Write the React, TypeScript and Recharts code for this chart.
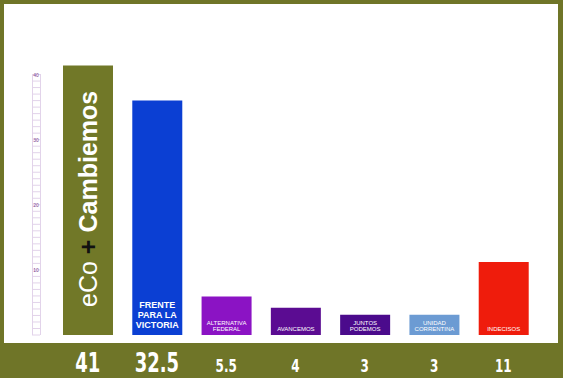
import { Bar, BarChart, Cell, LabelList, XAxis, YAxis } from "recharts";

const parties = [
  "eCo + Cambiemos",
  "FRENTE PARA LA VICTORIA",
  "ALTERNATIVA FEDERAL",
  "AVANCEMOS",
  "JUNTOS PODEMOS",
  "UNIDAD CORRENTINA",
  "INDECISOS",
];
// bar heights as read against the ruler on the left
const barValues = [41.4, 36, 5.9, 4.2, 3.1, 3.1, 11.2];
// numbers printed in the bottom band
const shares = ["41", "32.5", "5.5", "4", "3", "3", "11"];
const barLines = [
  [],
  ["FRENTE", "PARA LA", "VICTORIA"],
  ["ALTERNATIVA", "FEDERAL"],
  ["AVANCEMOS"],
  ["JUNTOS", "PODEMOS"],
  ["UNIDAD", "CORRENTINA"],
  ["INDECISOS"],
];
const barColors = ["#717828", "#0b3fd3", "#8b13c4", "#5b0c92", "#4b0b8c", "#6c9bd3", "#ef1c0c"];
const rulerTicks = Array.from({ length: 41 }, (_, i) => i);

const OLIVE = "#6f7528";

const data = parties.map((name, i) => ({ name, value: barValues[i], share: shares[i] }));

function RulerTick(props: any) {
  const { x, y, payload } = props;
  const v = payload.value as number;
  return (
    <g>
      <line x1={x - 8} x2={x} y1={y} y2={y} stroke="#e2d3ea" strokeWidth={1} />
      {v % 10 === 0 && v > 0 ? (
        <text x={x - 4} y={y} dy={2} textAnchor="middle" fontSize={5} fill="#7b3b8e" fontFamily="Liberation Sans">
          {v}
        </text>
      ) : null}
    </g>
  );
}

// condensed look: squeeze the bold digits horizontally
function ShareTick(props: any) {
  const { x, y, payload, index } = props;
  const big = index < 2;
  return (
    <g transform={`translate(${x} ${y + 37}) scale(0.74 1)`}>
      <text
        x={0}
        y={0}
        textAnchor="middle"
        fill="#ffffff"
        fontFamily="'DejaVu Sans Condensed', 'DejaVu Sans', sans-serif"
        fontWeight="bold"
        fontSize={big ? 27 : 18}
      >
        {shares[index] ?? payload.value}
      </text>
    </g>
  );
}

function BarText(props: any) {
  const { x, y, width, height, index } = props;
  const cx = x + width / 2;
  const bottom = y + height;
  if (index === 0) {
    return (
      <text
        x={cx}
        y={bottom - 28}
        transform={`rotate(-90 ${cx} ${bottom - 28})`}
        dominantBaseline="central"
        fontFamily="'Liberation Sans', Arial, sans-serif"
        fontSize={25}
        fill="#ffffff"
      >
        <tspan fontWeight={300}>eCo</tspan>
        <tspan fontWeight="bold" fill="#111111" dx={7}>+</tspan>
        <tspan fontWeight="bold" dx={7}>Cambiemos</tspan>
      </text>
    );
  }
  const lines = barLines[index];
  const big = index === 1;
  const lh = big ? 10 : 6;
  const fs = big ? 9 : 6;
  const last = bottom - (big ? 7 : 4);
  return (
    <text
      textAnchor="middle"
      fontFamily="'Liberation Sans', Arial, sans-serif"
      fontWeight={big ? "bold" : "normal"}
      fontSize={fs}
      fill="#ffffff"
    >
      {lines.map((line: string, k: number) => (
        <tspan key={k} x={cx} y={last - (lines.length - 1 - k) * lh}>
          {line}
        </tspan>
      ))}
    </text>
  );
}

export default function App() {
  return (
    <div style={{ position: "absolute", left: 0, top: 0, width: 563, height: 378, background: OLIVE }}>
      <div style={{ position: "absolute", left: 4, top: 4, width: 554, height: 339, background: "#ffffff" }} />
      <div
        style={{
          position: "absolute",
          left: 32,
          top: 74,
          width: 7,
          height: 261,
          borderLeft: "1px solid #e2d3ea",
          borderRight: "1px solid #e2d3ea",
        }}
      />
      <div style={{ position: "absolute", left: 0, top: 0 }}>
        <BarChart width={563} height={378} data={data} margin={{ top: 42, right: 25, bottom: 0, left: 19 }}>
          <XAxis
            dataKey="name"
            height={43}
            axisLine={false}
            tickLine={false}
            tickSize={0}
            tickMargin={0}
            interval={0}
            padding={{ left: 13, right: 0 }}
            tick={<ShareTick />}
          />
          <YAxis
            width={21}
            domain={[0, 45]}
            ticks={rulerTicks}
            interval={0}
            axisLine={false}
            tickLine={false}
            tickSize={0}
            tickMargin={0}
            tick={<RulerTick />}
          />
          <Bar dataKey="value" barSize={50} isAnimationActive={false}>
            {data.map((d, i) => (
              <Cell key={d.name} fill={barColors[i]} />
            ))}
            <LabelList dataKey="value" content={<BarText />} />
          </Bar>
        </BarChart>
      </div>
    </div>
  );
}
